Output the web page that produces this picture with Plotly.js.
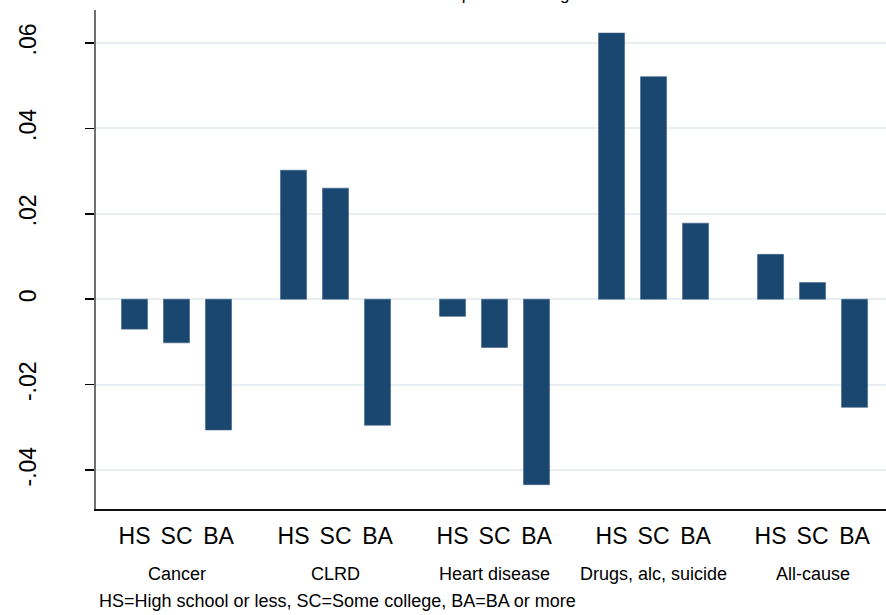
<!DOCTYPE html>
<html>
<head>
<meta charset="utf-8">
<script src="https://cdn.plot.ly/plotly-3.0.1.min.js"></script>
<style>
html,body{margin:0;padding:0;background:#fff;}
#chart{width:886px;height:615px;}
</style>
</head>
<body>
<div id="chart"></div>
<script>
// ---- data ----
const groups = ["Cancer", "CLRD", "Heart disease", "Drugs, alc, suicide", "All-cause"];
const levels = ["HS", "SC", "BA"];
const hsValues = [-0.0070, 0.0302, -0.0040, 0.0623, 0.0105];
const scValues = [-0.0102, 0.0260, -0.0113, 0.0521, 0.0039];
const baValues = [-0.0306, -0.0295, -0.0434, 0.0178, -0.0253];
const yTickVals = [-0.04, -0.02, 0, 0.02, 0.04, 0.06];
const yTickText = ["-.04", "-.02", "0", ".02", ".04", ".06"];
const titleText = "Annual percent change";
const noteText = "HS=High school or less, SC=Some college, BA=BA or more";

// ---- layout helpers ----
const groupStep = 3.786;   // distance between groups in bar units
const seriesByLevel = [hsValues, scValues, baValues];
const xs = [], ys = [], tickVals = [], tickText = [];
groups.forEach((g, gi) => {
  levels.forEach((lv, li) => {
    const pos = gi * groupStep + li;
    xs.push(pos);
    ys.push(seriesByLevel[li][gi]);
    tickVals.push(pos);
    tickText.push(lv);
  });
});

const FONT = "Liberation Sans, Arial, Helvetica, sans-serif";

const trace = {
  type: "bar",
  x: xs,
  y: ys,
  width: 0.62,
  marker: {color: "#1a476f", line: {color: "#3f6288", width: 0.6}},
  hoverinfo: "x+y",
  showlegend: false
};

const annotations = groups.map((g, gi) => ({
  text: g,
  xref: "x", yref: "paper",
  x: gi * groupStep + 1, y: 0,
  xanchor: "center", yanchor: "middle",
  yshift: -65,
  showarrow: false,
  font: {family: FONT, size: 18, color: "#000"}
}));
annotations.push({
  text: noteText,
  xref: "paper", yref: "paper",
  x: 0, y: 0,
  xanchor: "left", yanchor: "middle",
  xshift: 1, yshift: -92,
  showarrow: false,
  font: {family: FONT, size: 18, color: "#000"}
});
annotations.push({
  text: titleText,
  xref: "paper", yref: "paper",
  x: 0.5, y: 1,
  xanchor: "center", yanchor: "bottom",
  yshift: 4,
  showarrow: false,
  font: {family: FONT, size: 17, color: "#000"}
});

const layout = {
  width: 886, height: 615,
  margin: {l: 96, r: 0, t: 10, b: 106, pad: 0},
  paper_bgcolor: "#fff",
  plot_bgcolor: "#fff",
  font: {family: FONT, color: "#000"},
  bargap: 0,
  xaxis: {
    range: [-0.917, 17.893],
    tickmode: "array",
    tickvals: tickVals,
    ticktext: tickText,
    ticks: "",
    showgrid: false,
    zeroline: false,
    showline: true,
    linecolor: "#111",
    linewidth: 2,
    tickfont: {family: FONT, size: 23, color: "#000"},
    ticklabelstandoff: 5,
    fixedrange: true
  },
  yaxis: {
    range: [-0.0491, 0.0677],
    tickmode: "array",
    tickvals: yTickVals,
    ticktext: yTickText,
    tickangle: -90,
    ticks: "outside",
    ticklen: 9,
    tickwidth: 1.5,
    tickcolor: "#000",
    showgrid: true,
    gridcolor: "#e8eff2",
    gridwidth: 2,
    zeroline: false,
    showline: true,
    linecolor: "#707070",
    linewidth: 2,
    tickfont: {family: FONT, size: 23, color: "#000"},
    ticklabelstandoff: 40,
    fixedrange: true
  },
  annotations: annotations
};

Plotly.newPlot("chart", [trace], layout, {displayModeBar: false, staticPlot: true});
</script>
</body>
</html>
